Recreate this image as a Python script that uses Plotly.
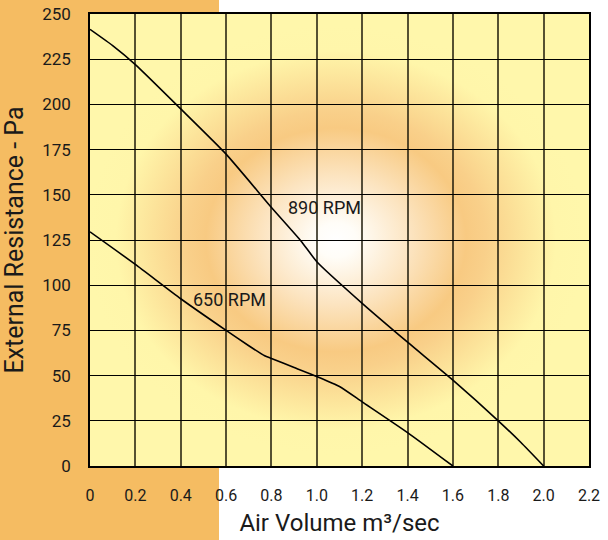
import base64
import plotly.graph_objects as go

# ---- data ----
vol_890 = [0, 0.1, 0.2, 0.4, 0.6, 0.8, 0.93, 1.0, 1.2, 1.4, 1.6, 1.8, 1.9, 2.0]
res_890 = [241.5, 232.5, 222, 197.5, 172.5, 143, 124.5, 113, 90, 68.5, 47.5, 25, 13, 0]

vol_650 = [0, 0.2, 0.4, 0.6, 0.7, 0.77, 0.8, 0.9, 1.0, 1.1, 1.2, 1.4, 1.6]
res_650 = [129.5, 111.5, 92.5, 75, 66.5, 61, 59.5, 54.5, 49.5, 44, 35.5, 18.5, 0]

x_tickvals = [0, 0.2, 0.4, 0.6, 0.8, 1.0, 1.2, 1.4, 1.6, 1.8, 2.0, 2.2]
x_ticktext = ["0", "0.2", "0.4", "0.6", "0.8", "1.0", "1.2", "1.4", "1.6", "1.8", "2.0", "2.2"]
y_tickvals = [0, 25, 50, 75, 100, 125, 150, 175, 200, 225, 250]

curve_labels = ["890 RPM", "650 RPM"]
label_x = [1.035, 0.617]
label_y = [143, 92]

# ---- figure geometry ----
W, H = 608, 540
ML, MR, MT, MB = 90, 19, 14, 74
PW, PH = W - ML - MR, H - MT - MB

# background: orange side panel + radial glow inside the plotting area
cx, cy = 246, 226  # glow centre in plot-area pixels
svg = f'''<svg xmlns="http://www.w3.org/2000/svg" width="{W}" height="{H}" viewBox="0 0 {W} {H}">
<defs>
<radialGradient id="g" gradientUnits="userSpaceOnUse" cx="0" cy="0" r="250"
  gradientTransform="translate({ML + cx},{MT + cy}) scale(1,0.86)">
  <stop offset="0" stop-color="#FFFFFF"/>
  <stop offset="0.08" stop-color="#FFFDF8"/>
  <stop offset="0.3" stop-color="#FCE4C0"/>
  <stop offset="0.52" stop-color="#F8CA82"/>
  <stop offset="0.6" stop-color="#F9D08A"/>
  <stop offset="0.88" stop-color="#FFF6AA"/>
  <stop offset="1" stop-color="#FFF7AB"/>
</radialGradient>
</defs>
<rect x="0" y="0" width="219" height="{H}" fill="#F5BC62"/>
<rect x="{ML}" y="{MT}" width="{PW}" height="{PH}" fill="url(#g)"/>
</svg>'''
src = "data:image/svg+xml;base64," + base64.b64encode(svg.encode()).decode()

fig = go.Figure()
fig.add_trace(go.Scatter(x=vol_890, y=res_890, mode="lines", name="890 RPM",
                         line=dict(color="black", width=1.6, shape="spline", smoothing=0.5),
                         hoverinfo="skip"))
fig.add_trace(go.Scatter(x=vol_650, y=res_650, mode="lines", name="650 RPM",
                         line=dict(color="black", width=1.6, shape="spline", smoothing=0.5),
                         hoverinfo="skip"))

for t, xv, yv in zip(curve_labels, label_x, label_y):
    fig.add_annotation(x=xv, y=yv, text=t, showarrow=False,
                       font=dict(family="Roboto", size=18, color="#1a1a1a"))

fig.add_layout_image(dict(
    source=src, xref="paper", yref="paper",
    x=-ML / PW, y=(H - MB) / PH, sizex=W / PW, sizey=H / PH,
    xanchor="left", yanchor="top", sizing="stretch", layer="below"))

fig.update_layout(
    width=W, height=H,
    margin=dict(l=ML, r=MR, t=MT, b=MB, pad=0, autoexpand=False),
    paper_bgcolor="white", plot_bgcolor="rgba(0,0,0,0)",
    showlegend=False,
    font=dict(family="Roboto", color="#1a1a1a"),
)
fig.update_xaxes(range=[0, 2.2], tickvals=x_tickvals, ticktext=x_ticktext, automargin=False,
                 showgrid=True, gridcolor="rgba(30,25,10,0.75)", gridwidth=1.5,
                 zeroline=False, showline=True, linecolor="black", linewidth=1.5, mirror=True,
                 ticks="", ticklabelstandoff=14, tickfont=dict(size=16),
                 title=dict(text="Air Volume m³/sec", font=dict(size=24), standoff=10))
fig.update_yaxes(range=[0, 250], tickvals=y_tickvals, automargin=False,
                 showgrid=True, gridcolor="black", gridwidth=1,
                 zeroline=False, showline=True, linecolor="black", linewidth=1.5, mirror=True,
                 ticks="", ticklabelstandoff=14, tickfont=dict(size=17),
                 title=dict(text="External Resistance - Pa", font=dict(size=25), standoff=11))

fig.write_html("out.html", config={"displayModeBar": False},
               post_script="document.body.style.margin='0';document.body.style.overflow='hidden';")
